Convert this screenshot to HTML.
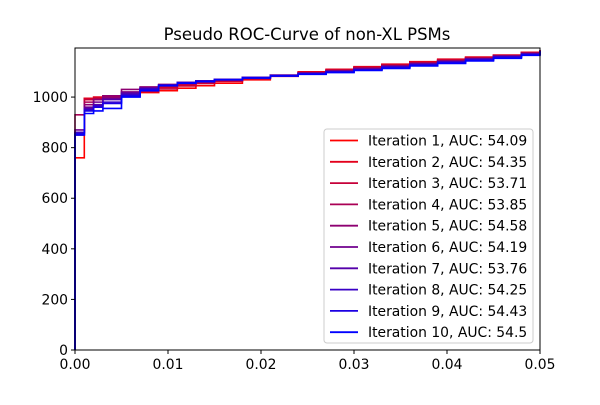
<!DOCTYPE html>
<html><head><meta charset="utf-8"><style>
body{margin:0;background:#fff}
svg{font-family:"DejaVu Sans","Liberation Sans",sans-serif}
</style></head><body>
<svg width="600" height="400" id="c">
<text x="307" y="40" text-anchor="middle" font-size="16.5">Pseudo ROC-Curve of non-XL PSMs</text>
<g id="plot"></g>
<rect x="75" y="48" width="465" height="302" fill="none" stroke="#000" stroke-width="1"/>
<g id="axes"></g>
<g id="legend"></g>
</svg>
<script>
const xTicks=[0,0.01,0.02,0.03,0.04,0.05];
const xTickLabels=["0.00","0.01","0.02","0.03","0.04","0.05"];
const yTicks=[0,200,400,600,800,1000];
const seriesNames=["Iteration 1","Iteration 2","Iteration 3","Iteration 4","Iteration 5","Iteration 6","Iteration 7","Iteration 8","Iteration 9","Iteration 10"];
const aucs=["54.09","54.35","53.71","53.85","54.58","54.19","53.76","54.25","54.43","54.5"];
const stepX=[0,0.001,0.002,0.003,0.005,0.007,0.009,0.011,0.013,0.015,0.018,0.021,0.024,0.027,0.030,0.033,0.036,0.039,0.042,0.045,0.048,0.05];
const s1=[760,990,995,1000,1010,1018,1025,1035,1045,1055,1068,1082,1098,1108,1118,1128,1138,1147,1156,1165,1176,1185];
const s2=[850,995,1000,1005,1020,1028,1038,1048,1056,1064,1074,1085,1100,1110,1120,1130,1140,1150,1158,1166,1177,1186];
const s3=[860,990,995,1000,1012,1022,1032,1044,1054,1062,1072,1084,1096,1106,1116,1126,1136,1146,1155,1164,1175,1184];
const s4=[930,980,990,1000,1015,1030,1042,1052,1060,1067,1076,1086,1096,1105,1114,1124,1134,1144,1153,1163,1174,1185];
const s5=[860,970,990,1005,1030,1040,1050,1058,1064,1070,1078,1087,1096,1104,1113,1123,1133,1142,1152,1162,1172,1184];
const s6=[870,960,980,995,1020,1035,1048,1057,1063,1070,1078,1086,1094,1102,1111,1121,1131,1141,1151,1161,1171,1183];
const s7=[850,955,970,990,1015,1035,1048,1058,1064,1070,1078,1086,1093,1101,1110,1120,1130,1140,1150,1160,1170,1182];
const s8=[860,950,965,980,1010,1032,1047,1057,1064,1070,1077,1085,1092,1100,1108,1118,1128,1138,1148,1158,1169,1182];
const s9=[855,945,960,975,1005,1028,1045,1056,1062,1069,1076,1084,1091,1099,1107,1116,1126,1136,1146,1156,1167,1181];
const s10=[850,935,945,955,1000,1025,1045,1055,1061,1068,1075,1083,1090,1097,1105,1113,1123,1133,1143,1153,1165,1180];
const series=[s1,s2,s3,s4,s5,s6,s7,s8,s9,s10];
const X0=75,X1=540,Y0=350,Y1=48,XMAX=0.05,YMAX=1194;
const sx=v=>X0+v/XMAX*(X1-X0);
const sy=v=>Y0-v/YMAX*(Y0-Y1);
const NS="http://www.w3.org/2000/svg";
const col=i=>{const t=i/9;return `rgb(${Math.round(255*(1-t))},0,${Math.round(255*t)})`;};
const plot=document.getElementById('plot');
series.forEach((ys,i)=>{
  let d=`M${sx(0)},${sy(0)} L${sx(0)},${sy(ys[0])}`;
  for(let k=1;k<ys.length;k++){d+=` L${sx(stepX[k])},${sy(ys[k-1])} L${sx(stepX[k])},${sy(ys[k])}`;}
  const p=document.createElementNS(NS,'path');
  p.setAttribute('d',d);p.setAttribute('fill','none');p.setAttribute('stroke',col(i));p.setAttribute('stroke-width','1.6');
  
  
  plot.appendChild(p);
});
const axes=document.getElementById('axes');
xTicks.forEach((v,i)=>{
  const l=document.createElementNS(NS,'line');
  l.setAttribute('x1',sx(v));l.setAttribute('x2',sx(v));l.setAttribute('y1',Y0);l.setAttribute('y2',Y0+4);l.setAttribute('stroke','#000');
  
  
  axes.appendChild(l);
  const t=document.createElementNS(NS,'text');
  t.setAttribute('x',sx(v));t.setAttribute('y',Y0+19);t.setAttribute('text-anchor','middle');t.setAttribute('font-size','13.9');
  t.textContent=xTickLabels[i];
  
  
  axes.appendChild(t);
});
yTicks.forEach(v=>{
  const l=document.createElementNS(NS,'line');
  l.setAttribute('x1',X0-4);l.setAttribute('x2',X0);l.setAttribute('y1',sy(v));l.setAttribute('y2',sy(v));l.setAttribute('stroke','#000');
  
  
  axes.appendChild(l);
  const t=document.createElementNS(NS,'text');
  t.setAttribute('x',X0-7);t.setAttribute('y',sy(v)+5);t.setAttribute('text-anchor','end');t.setAttribute('font-size','13.9');
  t.textContent=v;
  
  
  axes.appendChild(t);
});
const lg=document.getElementById('legend');
const box=document.createElementNS(NS,'rect');
box.setAttribute('x',324);box.setAttribute('y',129);box.setAttribute('width',209);box.setAttribute('height',214);box.setAttribute('rx',3);
box.setAttribute('fill','#fff');box.setAttribute('fill-opacity','0.8');box.setAttribute('stroke','#ccc');


lg.appendChild(box);
seriesNames.forEach((n,i)=>{
  const y=140.5+i*21.3;
  const l=document.createElementNS(NS,'line');
  l.setAttribute('x1',330);l.setAttribute('x2',358);l.setAttribute('y1',y);l.setAttribute('y2',y);l.setAttribute('stroke',col(i));l.setAttribute('stroke-width','1.8');
  
  
  lg.appendChild(l);
  const t=document.createElementNS(NS,'text');
  t.setAttribute('x',368);t.setAttribute('y',y+5);t.setAttribute('font-size','13.9');
  t.textContent=n+', AUC: '+aucs[i];
  
  
  lg.appendChild(t);
});
</script>
</body></html>
